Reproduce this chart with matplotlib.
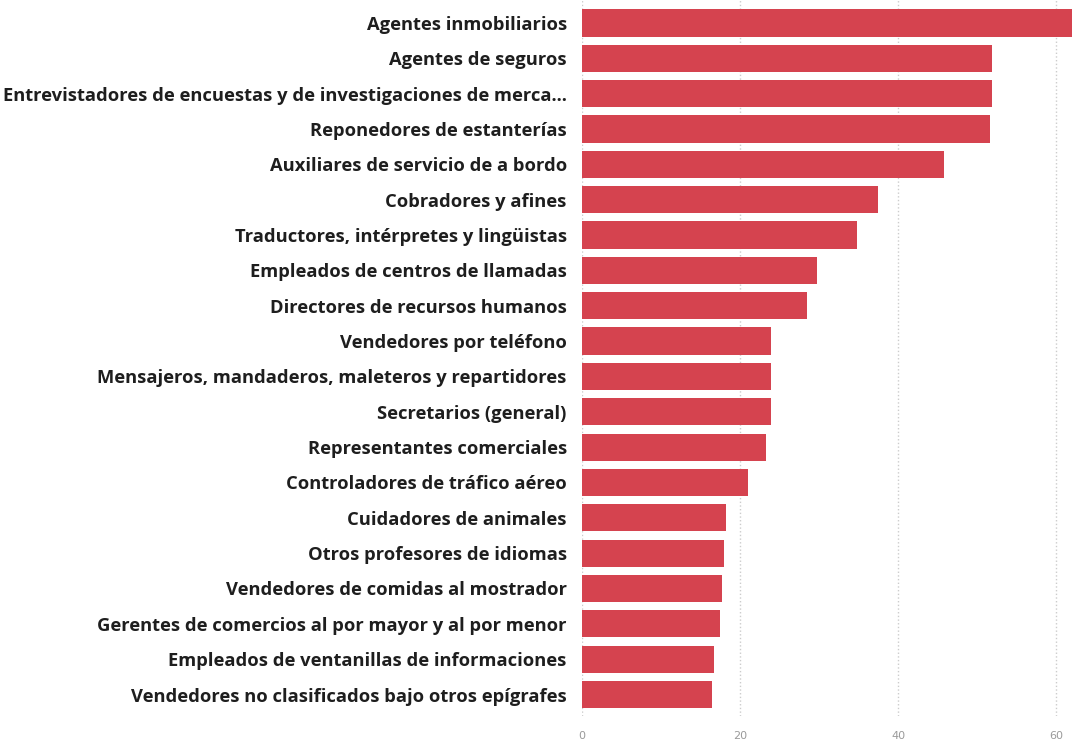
import matplotlib.pyplot as plt

ocupaciones = [
    "Agentes inmobiliarios",
    "Agentes de seguros",
    "Entrevistadores de encuestas y de investigaciones de merca...",
    "Reponedores de estanterías",
    "Auxiliares de servicio de a bordo",
    "Cobradores y afines",
    "Traductores, intérpretes y lingüistas",
    "Empleados de centros de llamadas",
    "Directores de recursos humanos",
    "Vendedores por teléfono",
    "Mensajeros, mandaderos, maleteros y repartidores",
    "Secretarios (general)",
    "Representantes comerciales",
    "Controladores de tráfico aéreo",
    "Cuidadores de animales",
    "Otros profesores de idiomas",
    "Vendedores de comidas al mostrador",
    "Gerentes de comercios al por mayor y al por menor",
    "Empleados de ventanillas de informaciones",
    "Vendedores no clasificados bajo otros epígrafes",
]
valores = [62.0, 51.9, 51.9, 51.6, 45.8, 37.5, 34.8, 29.7, 28.5, 23.9,
           23.9, 23.9, 23.3, 21.0, 18.2, 18.0, 17.7, 17.4, 16.7, 16.5]
ticks_x = [0, 20, 40, 60]

fig = plt.figure(figsize=(10.72, 7.44), dpi=100)
ax = fig.add_axes([0.543, 0.038, 0.457, 0.962])

pos = range(len(ocupaciones))
ax.barh(pos, valores, height=0.77, color="#D5434F", zorder=2)

ax.set_xlim(0, 62)
ax.set_ylim(19.6, -0.65)
ax.set_yticks(list(pos))
ax.set_yticklabels(ocupaciones, fontsize=13.2, fontfamily="Open Sans",
                   fontweight="bold", color="#1e1e1e")
ax.set_xticks(ticks_x)
ax.set_xticklabels([str(t) for t in ticks_x], fontsize=8, color="#9a9a9a")
ax.tick_params(axis="y", length=0, pad=11)
ax.tick_params(axis="x", length=0, pad=11)

ax.grid(axis="x", linestyle=":", color="#cccccc", linewidth=1, zorder=0)
for s in ax.spines.values():
    s.set_visible(False)

fig.savefig("out.png", dpi=100)
